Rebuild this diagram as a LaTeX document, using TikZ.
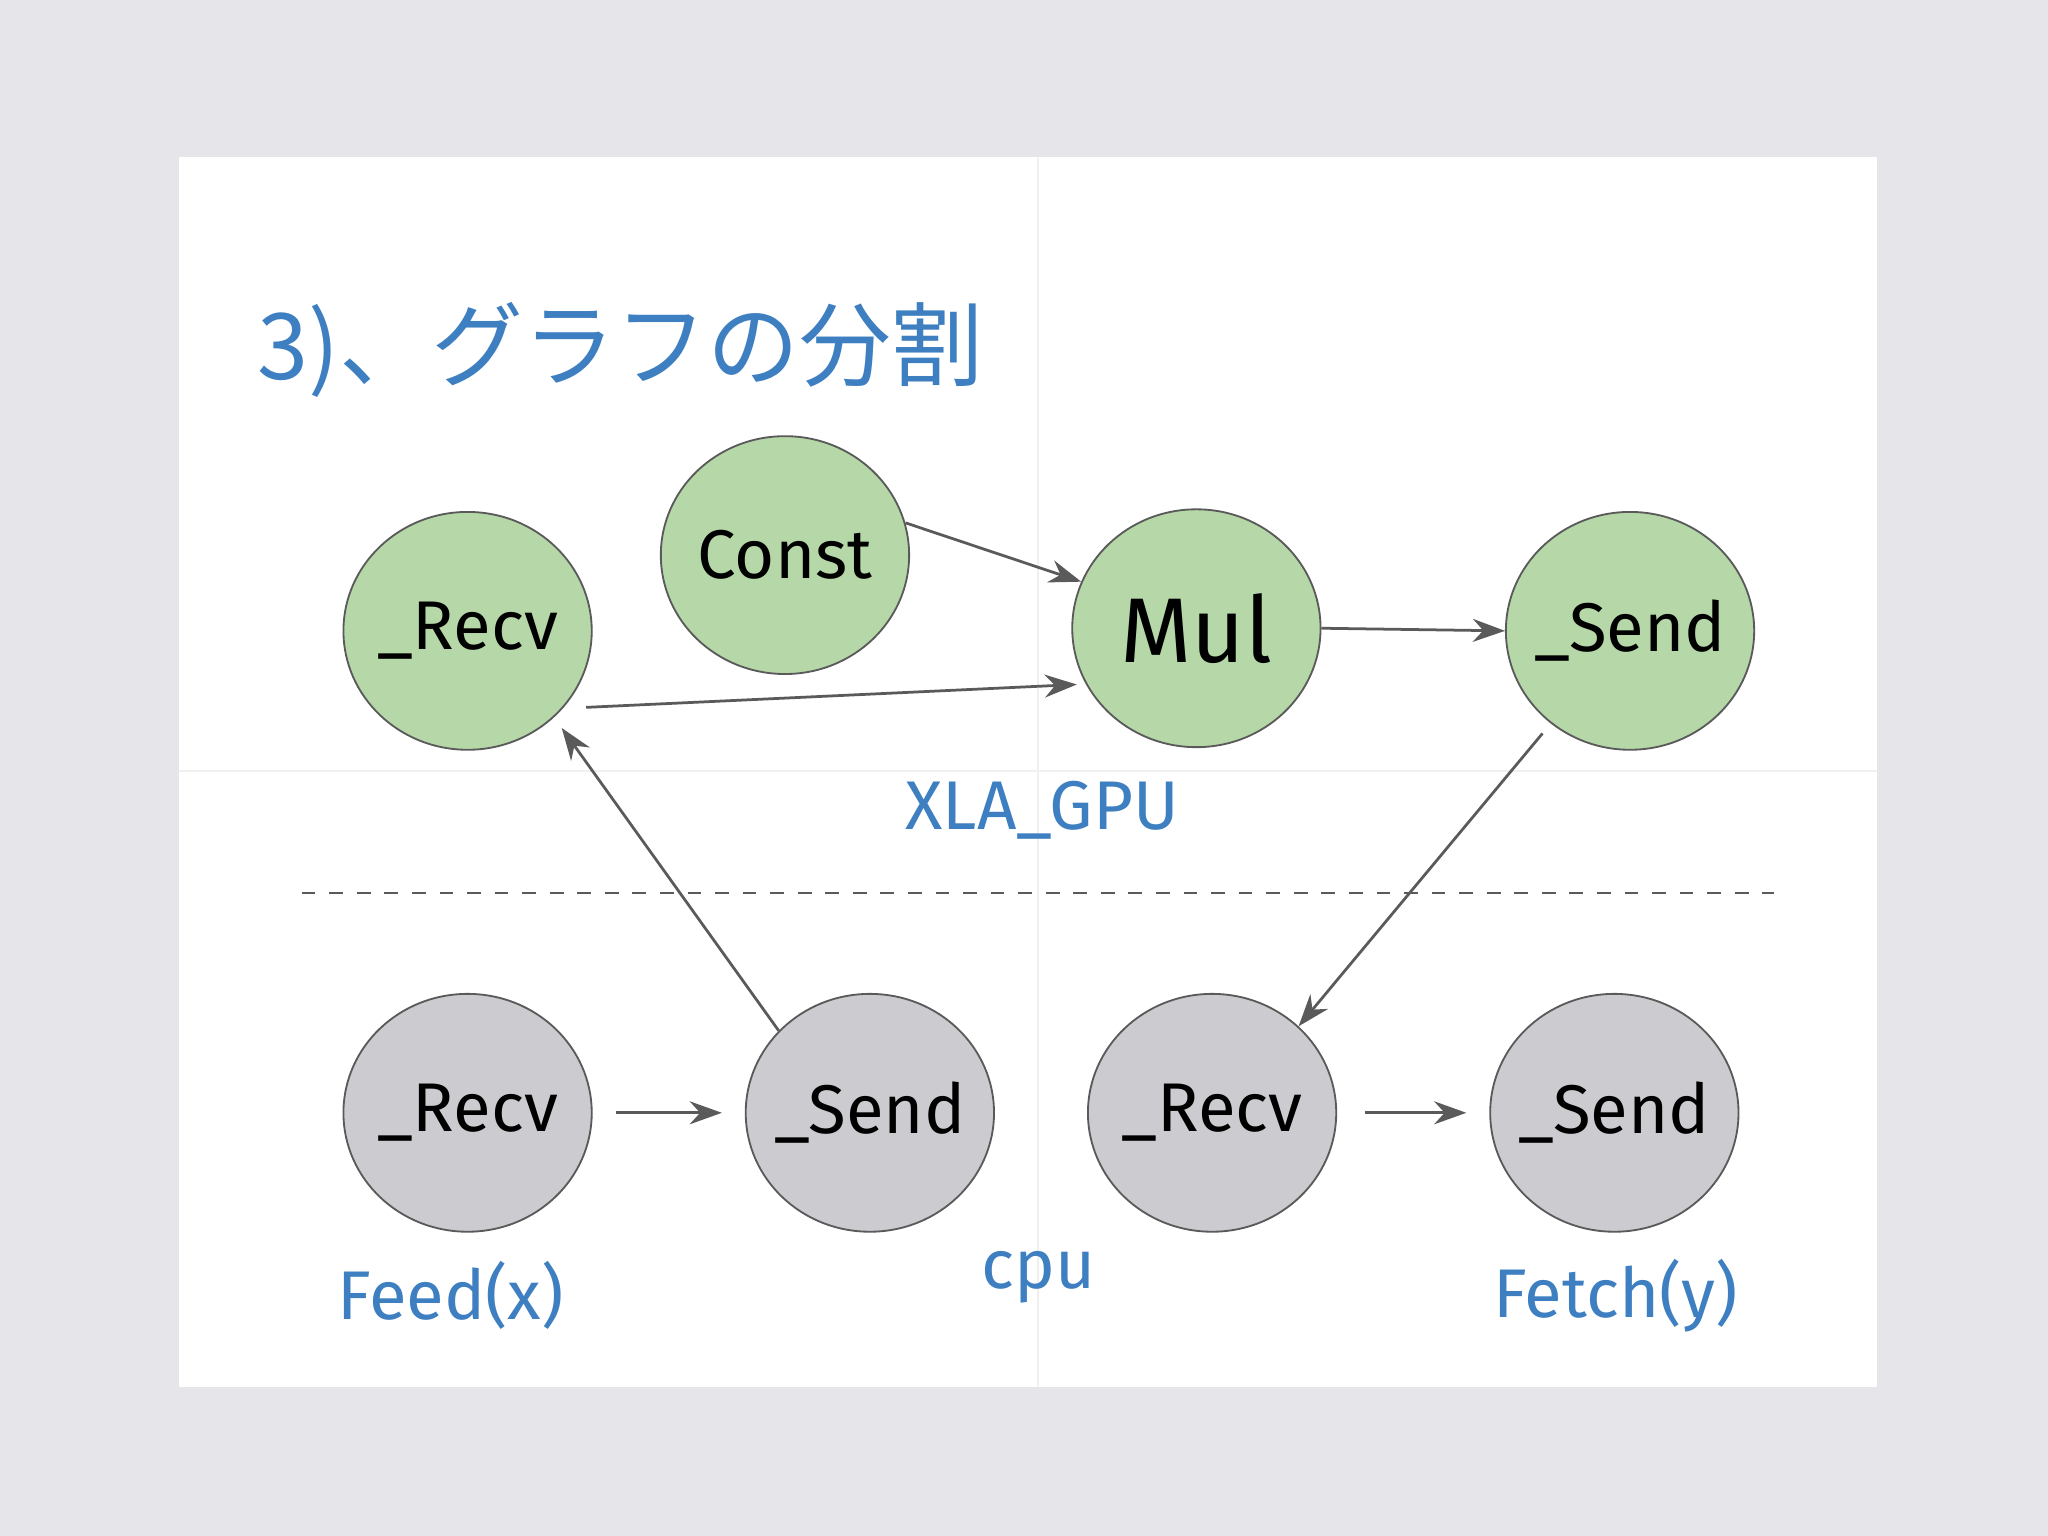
\documentclass[tikz,border=0pt]{standalone}
\usepackage{fontspec}
\setmainfont{Fira Sans}
\newfontfamily\cjk{Noto Sans CJK JP}
\usetikzlibrary{arrows.meta}
\definecolor{bgc}{HTML}{E6E6EA}
\definecolor{grn}{HTML}{B6D7A8}
\definecolor{gry}{HTML}{CCCBCF}
\definecolor{blu}{HTML}{3D7FC0}
\definecolor{edg}{HTML}{5A5A5A}
\tikzset{
  op/.style={ellipse, draw=edg, minimum width=1.9cm, minimum height=1.82cm, font=\fontsize{15}{15}\selectfont, inner xsep=-12pt, inner ysep=0pt},
  gpu/.style={op, fill=grn},
  host/.style={op, fill=gry},
  flow/.style={draw=edg, line width=0.6pt, -{Stealth[length=7pt,width=5pt]}},
  lbl/.style={text=blu, font=\fontsize{15}{15}\selectfont}
}
\usetikzlibrary{shapes.geometric}
\begin{document}
\begin{tikzpicture}[x=0.01cm, y=-0.01cm]
 \useasboundingbox (0,0) rectangle (1568,1176);
 \fill[bgc] (0,0) rectangle (1568,1176);
 \fill[white] (137,120) rectangle (1437,1062);
 \draw[black!6] (795,120) -- (795,1062);
 \draw[black!6] (137,590) -- (1437,590);
 % title
 \node[anchor=west, text=blu, font=\cjk\fontsize{20}{20}\selectfont] (title) at (185,268) {3)、グラフの分割};
 % gpu side
 \node[gpu] (recvA) at (358,483) {\_Recv};
 \node[gpu] (const) at (601,425) {Const};
 \node[gpu, font=\fontsize{20}{20}\selectfont] (mul) at (916,481) {Mul};
 \node[gpu] (sendA) at (1248,483) {\_Send};
 % cpu side
 \node[host] (recvB) at (358,852) {\_Recv};
 \node[host] (sendB) at (666,852) {\_Send};
 \node[host] (recvC) at (928,852) {\_Recv};
 \node[host] (sendC) at (1236,852) {\_Send};
 \draw[dashed, edg, line width=0.4pt] (231,684) -- (1358,684);
 % labels
 \node[lbl] (gpuname) at (798,620) {XLA\_GPU};
 \node[lbl] (cpuname) at (795,978) {cpu};
 \node[lbl] (feed) at (345,992) {Feed(x)};
 \node[lbl] (fetch) at (1237,992) {Fetch(y)};
 % edges
 \draw[flow] ([shift={(2pt,-4pt)}]recvA.-28) -- ([xshift=-2pt]mul.-153);
 \draw[flow] (const.15) -- (mul.158);
 \draw[flow] (mul.east) -- (sendA.west);
 \draw[flow] ([shift={(-2pt,-2pt)}]sendA.-130) -- (recvC.45);
 \draw[flow] (sendB.138) -- ([shift={(2pt,-2pt)}]recvA.-46);
 \draw[flow, shorten <=5pt, shorten >=5pt] (recvB.east) -- (sendB.west);
 \draw[flow, shorten <=6pt, shorten >=5pt] (recvC.east) -- (sendC.west);
\end{tikzpicture}
\end{document}
